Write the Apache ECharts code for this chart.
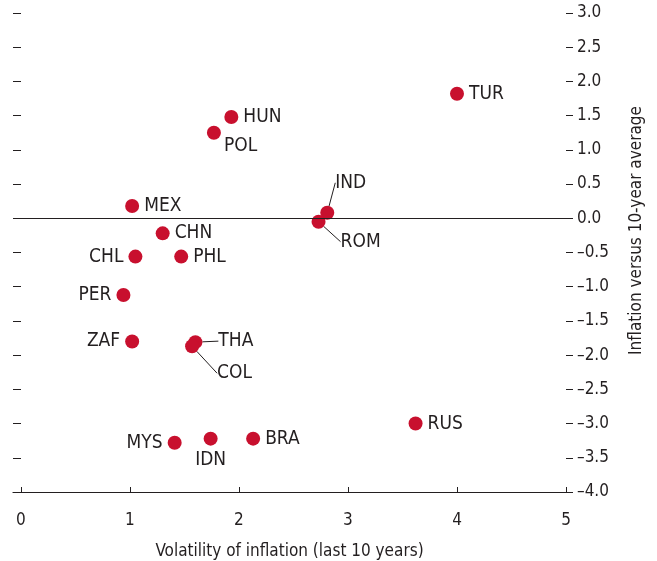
<!DOCTYPE html>
<html>
<head>
<meta charset="utf-8">
<script src="https://cdn.jsdelivr.net/npm/echarts@6/dist/echarts.min.js"></script>
<style>
  html, body { margin: 0; padding: 0; background: #fff; }
  #chart { width: 657px; height: 561px; }
</style>
</head>
<body>
<div id="chart"></div>
<script>
// country codes and their values (x: volatility, y: inflation vs 10-yr avg)
const countries = ['TUR', 'HUN', 'POL', 'MEX', 'IND', 'ROM', 'CHN', 'CHL', 'PHL', 'PER', 'ZAF', 'THA', 'COL', 'MYS', 'IDN', 'BRA', 'RUS'];
const volatility = [4.00, 1.93, 1.77, 1.02, 2.81, 2.73, 1.30, 1.05, 1.47, 0.94, 1.02, 1.60, 1.57, 1.41, 1.74, 2.13, 3.62];
const inflationGap = [1.82, 1.48, 1.25, 0.18, 0.08, -0.05, -0.22, -0.56, -0.56, -1.12, -1.80, -1.81, -1.87, -3.28, -3.22, -3.22, -3.00];
const xTicks = [0, 1, 2, 3, 4, 5];

// where each label sits
const labelSide = { CHL: 'left', PER: 'left', ZAF: 'left', MYS: 'left', IDN: 'bottom' };
// labels pulled away from their dot (some with a leader line)
const labelMove = {
    IND: [-4, -30],
    ROM: [10, 20],
    THA: [11, -1],
    COL: [13, 27],
    POL: [-2, 13]
};
const leaderLines = ['IND', 'ROM', 'THA', 'COL'];

const narrow = '"Liberation Sans Narrow", "Arial Narrow", "DejaVu Sans Condensed", sans-serif';
const ink = '#231f20';

const points = countries.map((c, i) => ({
    name: c,
    value: [volatility[i], inflationGap[i]],
    label: { position: labelSide[c] || 'right' },
    labelLine: { show: leaderLines.indexOf(c) >= 0 }
}));

function fmtY(v) {
    return v < 0 ? '\u2013' + Math.abs(v).toFixed(1) : v.toFixed(1);
}

const chart = echarts.init(document.getElementById('chart'));
chart.setOption({
    animation: false,
    backgroundColor: '#fff',
    grid: { left: 13, right: 91, top: 13, bottom: 69, containLabel: false, outerBoundsMode: 'none' },
    xAxis: {
        type: 'value',
        min: -0.073,
        max: 5,
        name: 'Volatility of inflation (last 10 years)',
        nameLocation: 'middle',
        nameGap: 51,
        nameTextStyle: { fontFamily: narrow, fontSize: 17, color: ink },
        axisLine: { onZero: false, lineStyle: { color: ink, width: 1.2 } },
        axisTick: { show: true, inside: true, length: 5, customValues: xTicks, lineStyle: { color: ink } },
        axisLabel: { customValues: xTicks, margin: 20, fontFamily: narrow, fontSize: 17, color: ink },
        splitLine: { show: false }
    },
    yAxis: [{
        type: 'value',
        position: 'right',
        min: -4,
        max: 3,
        interval: 0.5,
        name: 'Inflation versus 10-year average',
        nameLocation: 'middle',
        nameRotate: 90,
        nameGap: 62,
        nameTextStyle: { fontFamily: narrow, fontSize: 17, color: ink, padding: [0, 0, 0, 44] },
        axisLine: { show: false, onZero: false },
        axisTick: { show: true, length: 7, lineStyle: { color: ink } },
        axisLabel: { margin: 11, formatter: fmtY, fontFamily: narrow, fontSize: 17, color: ink },
        splitLine: { show: false }
    }, {
        type: 'value',
        position: 'left',
        min: -4,
        max: 3,
        interval: 0.5,
        axisLine: { show: false, onZero: false },
        axisTick: { show: true, inside: true, length: 8, lineStyle: { color: ink } },
        axisLabel: { show: false },
        splitLine: { show: false }
    }],
    series: [{
        type: 'scatter',
        data: points,
        symbolSize: 14,
        itemStyle: { color: '#c8102e', opacity: 1 },
        label: {
            show: true,
            formatter: '{b}',
            distance: 5,
            fontFamily: narrow,
            fontSize: 19,
            color: ink
        },
        labelLine: { lineStyle: { color: ink, width: 1 } },
        labelLayout: function (p) {
            const m = labelMove[countries[p.dataIndex]];
            return m ? { dx: m[0], dy: m[1] } : {};
        },
        markLine: {
            silent: true,
            symbol: 'none',
            label: { show: false },
            lineStyle: { color: ink, width: 1.2, type: 'solid' },
            data: [{ yAxis: 0 }]
        },
        z: 3
    }]
});
</script>
</body>
</html>
